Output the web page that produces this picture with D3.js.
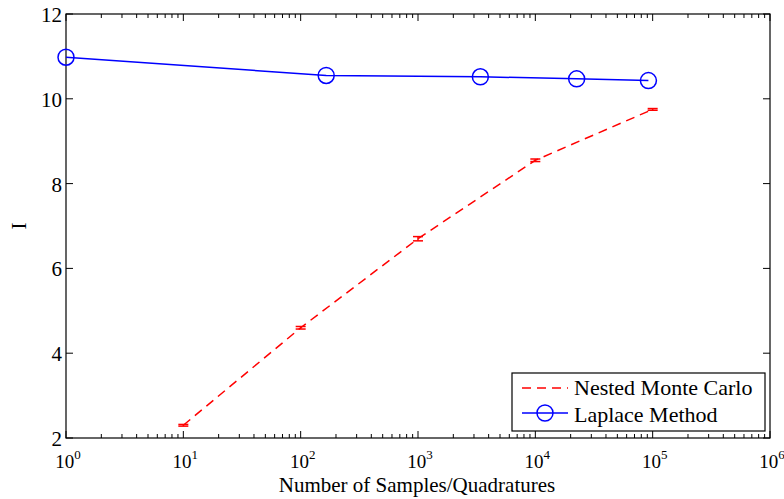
<!DOCTYPE html>
<html lang="en">
<head>
  <meta charset="UTF-8">
  <title>I vs samples</title>
  <style>
    body { margin: 0; background: #fff; }
    text { font-family: "Liberation Serif", "Times New Roman", serif; fill: #000; }
  </style>
</head>
<body>
  <div id="graph"></div>
  <script src="https://d3js.org/d3.v7.min.js"></script>
  <script>
    // Nested Monte Carlo
    var mcSamples = [10, 100, 1000, 10000, 100000];
    var mcMean = [2.3, 4.6, 6.7, 8.55, 9.75];
    var mcErr = [0.02, 0.03, 0.05, 0.03, 0.02];

    // Laplace method
    var lapQuad = [1, 165, 3400, 22500, 92000];
    var lapI = [10.98, 10.55, 10.52, 10.47, 10.43];

    var xTicks = [1, 10, 100, 1000, 10000, 100000, 1000000];
    var yTicks = [2, 4, 6, 8, 10, 12];
    var legendLabels = ['Nested Monte Carlo', 'Laplace Method'];

    var W = 784, H = 499;
    var m = {top: 14, right: 14, bottom: 61, left: 66};
    var w = W - m.left - m.right, h = H - m.top - m.bottom;

    var svg = d3.select('#graph').append('svg').attr('width', W).attr('height', H);
    var g = svg.append('g').attr('transform', 'translate(' + m.left + ',' + m.top + ')');

    var x = d3.scaleLog().domain([1, 1e6]).range([0, w]);
    var y = d3.scaleLinear().domain([2, 12]).range([h, 0]);

    // minor ticks
    var minor = [];
    for (var e = 0; e < 6; e++) for (var k = 2; k < 10; k++) minor.push(k * Math.pow(10, e));

    // bottom axis
    var bottomAx = g.append('g').attr('transform', 'translate(0,' + h + ')');
    bottomAx.selectAll('.mj').data(xTicks).enter().append('line')
      .attr('x1', x).attr('x2', x).attr('y1', 0).attr('y2', -7).attr('stroke', '#000');
    bottomAx.selectAll('.mn').data(minor).enter().append('line')
      .attr('x1', x).attr('x2', x).attr('y1', 0).attr('y2', -4).attr('stroke', '#000');
    var lab = bottomAx.selectAll('.lb').data(xTicks).enter().append('text')
      .attr('x', function(d) { return x(d) + 2; }).attr('y', 30)
      .attr('text-anchor', 'middle').style('font-size', '19px');
    lab.append('tspan').text('10');
    lab.append('tspan').attr('dy', -9).style('font-size', '13px')
      .text(function(d) { return Math.round(Math.log10(d)); });

    // top axis ticks
    var topAx = g.append('g');
    topAx.selectAll('.mj').data(xTicks).enter().append('line')
      .attr('x1', x).attr('x2', x).attr('y1', 0).attr('y2', 7).attr('stroke', '#000');
    topAx.selectAll('.mn').data(minor).enter().append('line')
      .attr('x1', x).attr('x2', x).attr('y1', 0).attr('y2', 4).attr('stroke', '#000');

    // y ticks left/right
    g.selectAll('.yl').data(yTicks).enter().append('line')
      .attr('x1', 0).attr('x2', 7).attr('y1', y).attr('y2', y).attr('stroke', '#000');
    g.selectAll('.yr').data(yTicks).enter().append('line')
      .attr('x1', w).attr('x2', w - 7).attr('y1', y).attr('y2', y).attr('stroke', '#000');
    g.selectAll('.ylab').data(yTicks).enter().append('text')
      .attr('x', -4).attr('y', function(d) { return y(d) + 8; })
      .attr('text-anchor', 'end').style('font-size', '21px').text(function(d) { return d; });

    // frame
    g.append('rect').attr('width', w).attr('height', h)
      .attr('fill', 'none').attr('stroke', '#000').attr('stroke-width', 1.2);

    // axis labels
    svg.append('text').attr('x', m.left + w / 2 - 1).attr('y', 492)
      .attr('text-anchor', 'middle').style('font-size', '21px').text('Number of Samples/Quadratures');
    svg.append('text').attr('transform', 'translate(26,' + (m.top + h / 2) + ') rotate(-90)')
      .attr('text-anchor', 'middle').style('font-size', '21px').text('I');

    // Nested Monte Carlo
    var mc = mcSamples.map(function(s, i) { return {x: s, y: mcMean[i], e: mcErr[i]}; });
    g.append('path').datum(mc)
      .attr('d', d3.line().x(function(d) { return x(d.x); }).y(function(d) { return y(d.y); }))
      .attr('fill', 'none').attr('stroke', '#ff0000').attr('stroke-width', 1.5)
      .attr('stroke-dasharray', '9,6');
    var eb = g.selectAll('.eb').data(mc).enter().append('g').attr('stroke', '#ff0000').attr('stroke-width', 1.5);
    eb.append('line').attr('x1', function(d) { return x(d.x); }).attr('x2', function(d) { return x(d.x); })
      .attr('y1', function(d) { return y(d.y - d.e); }).attr('y2', function(d) { return y(d.y + d.e); });
    eb.append('line').attr('x1', function(d) { return x(d.x) - 5; }).attr('x2', function(d) { return x(d.x) + 5; })
      .attr('y1', function(d) { return y(d.y - d.e); }).attr('y2', function(d) { return y(d.y - d.e); });
    eb.append('line').attr('x1', function(d) { return x(d.x) - 5; }).attr('x2', function(d) { return x(d.x) + 5; })
      .attr('y1', function(d) { return y(d.y + d.e); }).attr('y2', function(d) { return y(d.y + d.e); });

    // Laplace
    var lp = lapQuad.map(function(s, i) { return {x: s, y: lapI[i]}; });
    g.append('path').datum(lp)
      .attr('d', d3.line().x(function(d) { return x(d.x); }).y(function(d) { return y(d.y); }))
      .attr('fill', 'none').attr('stroke', '#0000ff').attr('stroke-width', 1.5);
    g.selectAll('.lc').data(lp).enter().append('circle')
      .attr('cx', function(d) { return x(d.x); }).attr('cy', function(d) { return y(d.y); })
      .attr('r', 8).attr('fill', 'none').attr('stroke', '#0000ff').attr('stroke-width', 1.5);

    // legend
    var lg = svg.append('g').attr('transform', 'translate(512,373)');
    lg.append('rect').attr('width', 253).attr('height', 58)
      .attr('fill', '#fff').attr('stroke', '#000').attr('stroke-width', 1.2);
    lg.append('line').attr('x1', 10).attr('x2', 56).attr('y1', 15).attr('y2', 15)
      .attr('stroke', '#ff0000').attr('stroke-width', 1.5).attr('stroke-dasharray', '9,6');
    lg.append('line').attr('x1', 10).attr('x2', 56).attr('y1', 40).attr('y2', 40)
      .attr('stroke', '#0000ff').attr('stroke-width', 1.5);
    lg.append('circle').attr('cx', 33).attr('cy', 40).attr('r', 8)
      .attr('fill', 'none').attr('stroke', '#0000ff').attr('stroke-width', 1.5);
    lg.selectAll('.lt').data(legendLabels).enter().append('text')
      .attr('x', 62).attr('y', function(d, i) { return 22 + i * 27; })
      .style('font-size', '22px').text(function(d) { return d; });
  </script>
</body>
</html>
